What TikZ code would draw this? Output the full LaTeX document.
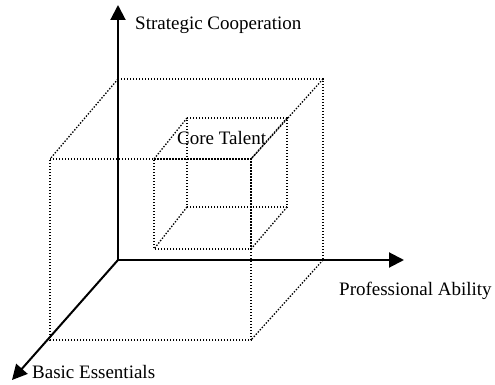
\documentclass[tikz,border=0pt]{standalone}
\usepackage{fontspec}
\setmainfont{Liberation Serif}
\usetikzlibrary{arrows.meta}

\begin{document}
\begin{tikzpicture}[
    x=1pt, y=-1pt,
    axis/.style={line width=2pt, -{Triangle[length=15pt,width=15pt]}},
    edge/.style={line width=1.3pt, dash pattern=on 1.4pt off 1.6pt},
    label/.style={font=\fontsize{19}{23}\selectfont, inner sep=0pt, anchor=west}
]
\useasboundingbox (0,0) rectangle (495,385);

% axes
\coordinate (o) at (118,260);
\coordinate (up) at (118,5);
\coordinate (right) at (404,260);
\coordinate (front) at (12,380);
\draw[axis] (o) -- (up);
\draw[axis] (o) -- (right);
\draw[axis] (o) -- (front);

% outer cube
\coordinate (a1) at (118,79);
\coordinate (a2) at (323,79);
\coordinate (a3) at (323,260);
\coordinate (b1) at (50,159);
\coordinate (b2) at (251,159);
\coordinate (b3) at (251,340);
\coordinate (b4) at (50,340);
\draw[edge] (a1) -- (a2) -- (a3);
\draw[edge] (b1) -- (b2) -- (b3) -- (b4) -- cycle;
\draw[edge] (a1) -- (b1);
\draw[edge] (a2) -- (b2);
\draw[edge] (a3) -- (b3);

% inner cube
\coordinate (c1) at (187,118);
\coordinate (c2) at (287,118);
\coordinate (c3) at (287,207);
\coordinate (c4) at (187,207);
\coordinate (d1) at (154,159);
\coordinate (d2) at (251,159);
\coordinate (d3) at (251,249);
\coordinate (d4) at (154,249);
\draw[edge] (c1) -- (c2) -- (c3) -- (c4) -- cycle;
\draw[edge] (d1) -- (d2) -- (d3) -- (d4) -- cycle;
\draw[edge] (c1) -- (d1);
\draw[edge] (c2) -- (d2);
\draw[edge] (c3) -- (d3);
\draw[edge] (c4) -- (d4);

\node[label] (strategic) at (135,25) {Strategic Cooperation};
\node[label] (core) at (177,138) {Core Talent};
\node[label] (professional) at (339,291) {Professional Ability};
\node[label] (basic) at (32,372) {Basic Essentials};

\end{tikzpicture}
\end{document}
